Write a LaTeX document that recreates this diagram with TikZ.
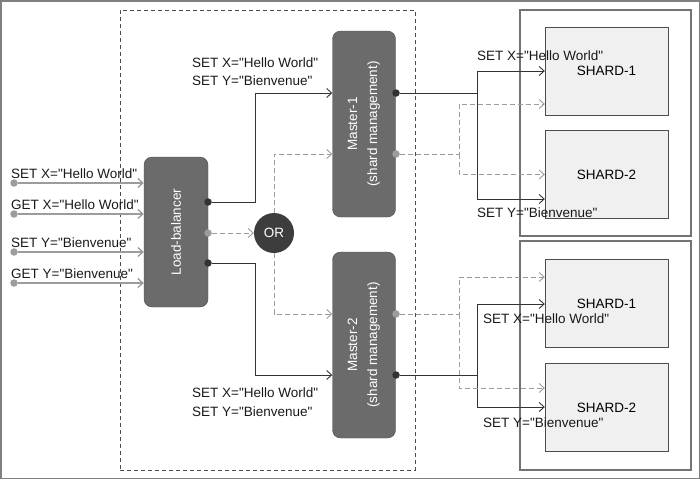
\documentclass[tikz,border=0pt]{standalone}
\usepackage{fontspec}
\setmainfont{Liberation Sans}[Ligatures=TeXOff]
\usepackage{graphicx}
\usetikzlibrary{arrows.meta,positioning}

\definecolor{boxgray}{HTML}{6B6B6B}
\definecolor{orgray}{HTML}{3D3D3D}
\definecolor{linedark}{HTML}{333333}
\definecolor{linegray}{HTML}{9C9C9C}
\definecolor{shardfill}{HTML}{F0F0F0}
\definecolor{framegray}{HTML}{808080}

\begin{document}
\begin{tikzpicture}[x=1pt, y=-1pt, font=\fontsize{13.5}{16}\selectfont,
    >={Straight Barb[length=5pt,width=9pt]},
    server/.style={rectangle, rounded corners=8pt, fill=boxgray,
      draw=boxgray!75!black, text=white, inner sep=0pt},
    orbubble/.style={circle, fill=orgray, text=white, inner sep=0pt,
      minimum size=40pt},
    cluster/.style={rectangle, draw=black!70, dash pattern=on 4pt off 3pt,
      minimum width=295pt, minimum height=460pt},
    group/.style={rectangle, draw=black!55, line width=1.2pt,
      minimum width=171pt},
    shard/.style={rectangle, draw=black!70, fill=shardfill,
      minimum width=123pt, minimum height=88pt},
    dot/.style={circle, fill=linedark, inner sep=0pt, minimum size=7.5pt},
    graydot/.style={dot, fill=linegray},
    req/.style={->, linegray, line width=1.3pt},
    main/.style={->, linedark, line width=0.9pt},
    alt/.style={->, linegray, line width=0.9pt, dash pattern=on 5pt off 3pt},
    lbl/.style={anchor=base west, inner sep=0pt, text=black!90}]

  \useasboundingbox (0,0) rectangle (700,479);
  \draw[framegray, line width=1.5pt] (0.75,0.75) rectangle (699.25,478.25);

  % boxes
  \node[cluster] (C) at (267.5,240) {};
  \node[group, minimum height=226pt] (G1) at (605.5,123) {};
  \node[group, minimum height=229pt] (G2) at (605.5,355.5) {};

  \node[shard] (S11) at (606.5,71) {SHARD-1};
  \node[shard] (S12) at (606.5,174.5) {SHARD-2};
  \node[shard] (S21) at (606.5,303.5) {SHARD-1};
  \node[shard] (S22) at (606.5,407.5) {SHARD-2};

  \node[server, minimum width=64pt, minimum height=150pt] (LB) at (176,232)
    {\rotatebox{90}{Load-balancer}};
  \node[server, minimum width=63pt, minimum height=186pt] (M1) at (364,124)
    {\rotatebox{90}{\begin{tabular}{@{}c@{}}Master-1\\[4pt](shard management)\end{tabular}}};
  \node[server, minimum width=63pt, minimum height=186pt] (M2) at (364,345)
    {\rotatebox{90}{\begin{tabular}{@{}c@{}}Master-2\\[4pt](shard management)\end{tabular}}};
  \node[orbubble] (OR) at (274,233) {OR};

  % dots
  \node[dot] (lba) at (208,202) {};
  \node[graydot] (lbb) at (208,233) {};
  \node[dot] (lbc) at (208,263) {};
  \node[dot] (m1a) at (396,93) {};
  \node[graydot] (m1b) at (396,154) {};
  \node[graydot] (m2a) at (396,314) {};
  \node[dot] (m2b) at (396,375) {};

  % requests
  \foreach \y/\txt [count=\i] in {183/{SET X="Hello World"},
      214/{GET X="Hello World"}, 252/{SET Y="Bienvenue"},
      283/{GET Y="Bienvenue"}} {
    \node[graydot] (in\i) at (14,\y) {};
    \draw[req] (in\i) -- (LB.west |- in\i);
    \node[lbl] (q\i) at (11,\y-5) {\txt};
  }

  % load-balancer to masters
  \coordinate (j1) at (255,93);
  \coordinate (j2) at (255,375);
  \draw[main] (lba) -| (j1) -- (M1.west |- m1a);
  \draw[main] (lbc) -| (j2) -- (M2.west |- m2b);
  \draw[alt] (lbb) -- (OR);
  \draw[alt] (OR) |- (M1.west |- m1b);
  \draw[alt] (OR) |- (M2.west |- m2a);

  % masters to shards
  \coordinate (t1) at (477,93);
  \coordinate (t2) at (459,154);
  \coordinate (b1) at (477,375);
  \coordinate (b2) at (459,314);
  \draw[main] (m1a) -- (t1) |- (S11.west);
  \draw[main] (t1) |- (S12.west |- 0,199);
  \draw[alt] (m1b) -- (t2) |- (S11.west |- 0,104);
  \draw[alt] (t2) |- (S12.west);
  \draw[main] (m2b) -- (b1) |- (S21.west |- 0,304);
  \draw[main] (b1) |- (S22.west |- 0,407);
  \draw[alt] (m2a) -- (b2) |- (S21.west |- 0,277);
  \draw[alt] (b2) |- (S22.west |- 0,388);

  % labels
  \node[lbl] (w1) at (192,67) {SET X="Hello World"};
  \node[lbl] (w2) at (192,85) {SET Y="Bienvenue"};
  \node[lbl] (w3) at (192,397) {SET X="Hello World"};
  \node[lbl] (w4) at (192,416) {SET Y="Bienvenue"};
  \node[lbl] (w5) at (477,60) {SET X="Hello World"};
  \node[lbl] (w6) at (477,217) {SET Y="Bienvenue"};
  \node[lbl] (w7) at (483,323) {SET X="Hello World"};
  \node[lbl] (w8) at (483,427) {SET Y="Bienvenue"};

\end{tikzpicture}
\end{document}
